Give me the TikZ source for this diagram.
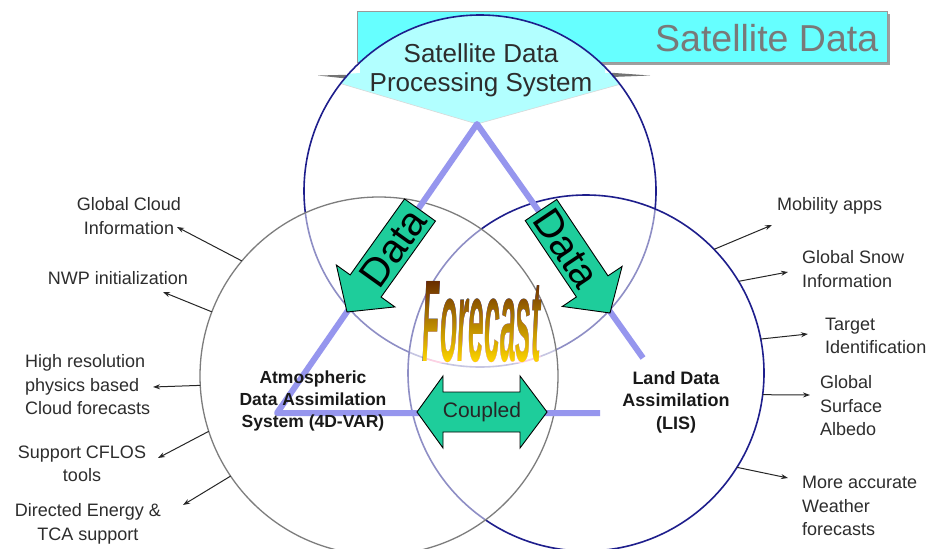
\documentclass[tikz,border=0pt]{standalone}
\usepackage{fontspec}
\setmainfont{Liberation Sans}
\usepackage{graphicx}
\usetikzlibrary{calc,arrows.meta}

\definecolor{navy}{RGB}{30,30,140}
\definecolor{cgrey}{RGB}{125,125,125}
\definecolor{boxcyan}{RGB}{102,255,255}
\definecolor{lav}{RGB}{150,150,238}
\definecolor{agreen}{RGB}{30,205,155}
\definecolor{fcbrown}{RGB}{105,45,0}
\definecolor{fcgold}{RGB}{200,150,15}
\definecolor{fcyellow}{RGB}{255,215,0}
\definecolor{txt}{RGB}{45,45,45}

\tikzset{
  ringc/.style={circle, inner sep=0pt, outer sep=0pt, fill=white, fill opacity=0.5, draw opacity=1},
  labtxt/.style={font=\fontsize{18}{23.5}\selectfont, text=txt, inner sep=0pt},
  outarr/.style={-{Stealth[length=7pt,width=5pt]}, line width=1pt, black!85},
  garrow/.style={fill=agreen, draw=black, line width=0.9pt, line join=miter},
  trileg/.style={lav, line width=6pt, line join=round},
  boldtxt/.style={font=\bfseries\fontsize{17.5}{22}\selectfont, align=center, inner sep=0pt, text=black!90},
  fcword/.style={inner sep=0pt},
}
\newcommand{\fcwordtext}{\resizebox{118pt}{80pt}{\bfseries\itshape Forecast}}

\begin{document}
\begin{tikzpicture}[x=1pt,y=-1pt]
\fill[white] (0,0) rectangle (932,549);
\useasboundingbox (0,0) rectangle (932,549);

% Satellite Data banner
\fill[gray!75] (360,14) rectangle (890,65);
\node[draw=gray!80, fill=boxcyan, line width=0.6pt, minimum width=530pt, minimum height=51pt,
      anchor=north west, inner sep=0pt, outer sep=0pt] (satbox) at (357,11) {};
\node[text=gray!95!black, font=\fontsize{37.5}{38}\selectfont, anchor=base west, inner sep=0pt] (sattitle) at (655,51) {Satellite Data};

% pentagon (inside top circle) and its outer slivers
\begin{scope}
  \clip (480,191) circle (176pt);
  \fill[boxcyan] (360,40) -- (360,73) -- (315,76) -- (477,124) -- (650,76) -- (605,73) -- (605,40) -- cycle;
  \draw[gray!60, line width=0.6pt] (315,76) -- (477,124) -- (650,76);
\end{scope}
\fill[black!55] (318,75.5) -- (346,74.8) -- (346,78.5) -- cycle;
\fill[black!55] (650,75.5) -- (612,72.8) -- (612,77) -- cycle;

% circles
\node[ringc, draw=navy, line width=1.6pt, minimum size=352pt] (topc) at (480,191) {};
\node[ringc, draw=navy, line width=1.6pt, minimum size=356pt] (rightc) at (586,373) {};
\node[ringc, draw=cgrey, line width=1.3pt, minimum size=358pt] (leftc) at (379,376) {};

% triangle
\coordinate (apex) at (477,124);
\coordinate (bl) at (277,413);
\coordinate (rl) at (643,358);
\coordinate (br) at (600,413);
\draw[trileg] (rl) -- (apex) -- (bl) -- (br);

% Data arrows
\coordinate (t1) at (420,210);
\coordinate (p1) at (347,312);
\coordinate (h1) at ($(p1)!32pt!(t1)$);
\draw[garrow] ($(t1)!19pt!90:(p1)$) -- ($(h1)!19pt!90:(p1)$) -- ($(h1)!36pt!90:(p1)$) -- (p1)
  -- ($(h1)!36pt!-90:(p1)$) -- ($(h1)!19pt!-90:(p1)$) -- ($(t1)!19pt!-90:(p1)$) -- cycle;
\node[rotate=54.4, font=\fontsize{40}{40}\selectfont, inner sep=0pt] (data1) at ($(t1)!0.5!(h1)$) {Data};

\coordinate (t2) at (541,210);
\coordinate (p2) at (610,313);
\coordinate (h2) at ($(p2)!32pt!(t2)$);
\draw[garrow] ($(t2)!19pt!90:(p2)$) -- ($(h2)!19pt!90:(p2)$) -- ($(h2)!36pt!90:(p2)$) -- (p2)
  -- ($(h2)!36pt!-90:(p2)$) -- ($(h2)!19pt!-90:(p2)$) -- ($(t2)!19pt!-90:(p2)$) -- cycle;
\node[rotate=-56.2, font=\fontsize{40}{40}\selectfont, inner sep=0pt] (data2) at ($(t2)!0.5!(h2)$) {Data};

% Coupled arrow
\draw[garrow] (417,412) -- (443,376) -- (443,392) -- (520,392) -- (520,376) -- (547,412)
  -- (520,448) -- (520,432) -- (443,432) -- (443,448) -- cycle;
\node[font=\fontsize{21}{21}\selectfont, text=black!85, inner sep=0pt] (coupled) at (482,412) {Coupled};

% Forecast: word in black, gradient laid over it with blend mode lighten
\node[fcword, text=black] (fc) at (482,322) {\fcwordtext};
\shade[blend mode=lighten, top color=fcbrown, middle color=fcgold, bottom color=fcyellow]
  (fc.north west) rectangle (fc.south east);

% main texts
\node[font=\fontsize{26}{29}\selectfont, text=txt, align=center, inner sep=0pt] (sdps) at (481,70) {Satellite Data\\Processing System};
\node[boldtxt] (atmo) at (313,401) {Atmospheric\\Data Assimilation\\System (4D-VAR)};
\node[boldtxt, font=\bfseries\fontsize{18}{22.5}\selectfont] (lis) at (676,402) {Land Data\\Assimilation\\(LIS)};

% left labels
\node[labtxt, align=center] (gci) at (129,216) {Global Cloud\\Information};
\node[labtxt] (nwp) at (118,278) {NWP initialization};
\node[labtxt, align=left, anchor=west] (hires) at (25,385) {High resolution\\physics based\\Cloud forecasts};
\node[labtxt, align=center] (cflos) at (82,464) {Support CFLOS\\tools};
\node[labtxt, align=center] (dir) at (88,524) {Directed Energy \&\\TCA support};

% right labels
\node[labtxt, anchor=west] (mob) at (777,206) {Mobility apps};
\node[labtxt, align=left, anchor=west] (snow) at (802,269) {Global Snow\\Information};
\node[labtxt, align=left, anchor=west] (target) at (825,336) {Target\\Identification};
\node[labtxt, align=left, anchor=west] (albedo) at (820,406) {Global\\Surface\\Albedo};
\node[labtxt, align=left, anchor=west] (wx) at (802,506) {More accurate\\Weather\\forecasts};

% label arrow ends
\coordinate (e1) at (177,227);
\coordinate (e2) at (163,292);
\coordinate (e3) at (153,387);
\coordinate (e4) at (158,458);
\coordinate (e5) at (183,505);
\coordinate (f1) at (772,225);
\coordinate (f2) at (788,272);
\coordinate (f3) at (808,334);
\coordinate (f4) at (810,395);
\coordinate (f5) at (788,478);

\draw[outarr] (leftc.140.1) -- (e1);
\draw[outarr] (leftc.159.8) -- (e2);
\draw[outarr] (leftc.183.5) -- (e3);
\draw[outarr] (leftc.198.5) -- (e4);
\draw[outarr] (leftc.214.9) -- (e5);
\draw[outarr] (rightc.44.1) -- (f1);
\draw[outarr] (rightc.31.4) -- (f2);
\draw[outarr] (rightc.11.7) -- (f3);
\draw[outarr] (rightc.-7.4) -- (f4);
\draw[outarr] (rightc.-32.5) -- (f5);

\end{tikzpicture}
\end{document}
